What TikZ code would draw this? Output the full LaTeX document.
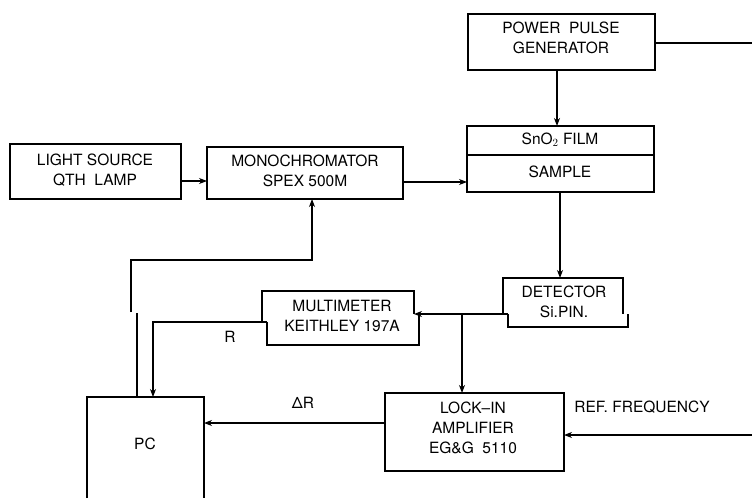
\documentclass[tikz,border=0pt]{standalone}
\usepackage{fontspec}
\setmainfont{TeX Gyre Heros}
\usetikzlibrary{arrows.meta}
\begin{document}
\begin{tikzpicture}[x=1pt,y=-1pt,
  line width=1.1pt,
  lbl/.style={inner sep=0pt,align=center,font=\fontsize{15.5}{20}\selectfont},
  box/.style={draw},
  arr/.style={-{Stealth[length=8pt,width=6pt,inset=2.5pt]}}]
\useasboundingbox (0,0) rectangle (752,498);
% plain boxes
\draw[box] (10,144) rectangle (181,199);
\node[lbl] (light) at (95,170) {LIGHT SOURCE\\QTH\ \ LAMP};
\draw[box] (207,147) rectangle (403,199);
\node[lbl] (mono) at (305,171) {MONOCHROMATOR\\SPEX 500M};
\draw[box] (468,14) rectangle (655,70);
\node[lbl] (pulse) at (561,38) {POWER\ \ PULSE\\GENERATOR};
\draw[box] (467,126) rectangle (654,192);
\draw (467,155) -- (654,155);
\node[lbl] (film) at (560,140) {SnO$_2$ FILM};
\node[lbl] (sample) at (560,172) {SAMPLE};
% detector (stepped outline)
\draw (503,314) -- (503,278) -- (623,278) -- (623,314);
\draw (628,314) -- (628,327) -- (508,327) -- (508,314);
\node[lbl] (det) at (564,302) {DETECTOR\\Si.PIN.};
% multimeter (stepped outline)
\draw (262,322) -- (262,291) -- (414,291) -- (414,314);
\draw (419,314) -- (419,345) -- (267,345) -- (267,322);
\node[lbl] (mult) at (342,316) {MULTIMETER\\KEITHLEY 197A};
% lock-in
\draw[box] (385,393) rectangle (564,471);
\node[lbl] (lock) at (473,428) {LOCK--IN\\AMPLIFIER\\EG\&G\ \ 5110};
% PC (open at bottom)
\draw (87,498) -- (87,397) -- (204,397) -- (204,498);
\node[lbl] (pc) at (145,444) {PC};
% labels
\node[lbl] (rlab) at (230,337) {R};
\node[lbl] (drlab) at (303,403) {ΔR};
\node[lbl] (reflab) at (642,407) {REF. FREQUENCY};
% coordinates
\coordinate (lsR) at (181,181);
\coordinate (moL) at (207,181);
\coordinate (moR) at (403,182);
\coordinate (fiL) at (467,182);
\coordinate (ppB) at (557,70);
\coordinate (fiT) at (557,126);
\coordinate (ppR) at (655,43);
\coordinate (edgeA) at (752,43);
\coordinate (saB) at (560,192);
\coordinate (deT) at (560,278);
\coordinate (deL) at (508,314);
\coordinate (muR) at (414,314);
\coordinate (br) at (462,314);
\coordinate (loT) at (462,393);
\coordinate (muL) at (267,322);
\coordinate (rc) at (153,322);
\coordinate (pcTr) at (153,397);
\coordinate (loL) at (385,423);
\coordinate (pcR) at (204,423);
\coordinate (edgeB) at (752,435);
\coordinate (loR) at (564,435);
\coordinate (pcTl) at (137,397);
\coordinate (jog1) at (137,313);
\coordinate (jog2) at (131,312);
\coordinate (up1) at (131,260);
\coordinate (up2) at (312,260);
\coordinate (moB) at (312,199);
% connectors
\draw[arr] (lsR) -- (moL);
\draw[arr] (moR) -- (fiL);
\draw[arr] (ppB) -- (fiT);
\draw (ppR) -- (edgeA);
\draw[arr] (saB) -- (deT);
\draw[arr] (deL) -- (muR);
\draw[arr] (br) -- (loT);
\draw[arr] (muL) -- (rc) -- (pcTr);
\draw[arr] (loL) -- (pcR);
\draw[arr] (edgeB) -- (loR);
\draw (pcTl) -- (jog1);
\draw[arr] (jog2) -- (up1) -- (up2) -- (moB);
\end{tikzpicture}
\end{document}
